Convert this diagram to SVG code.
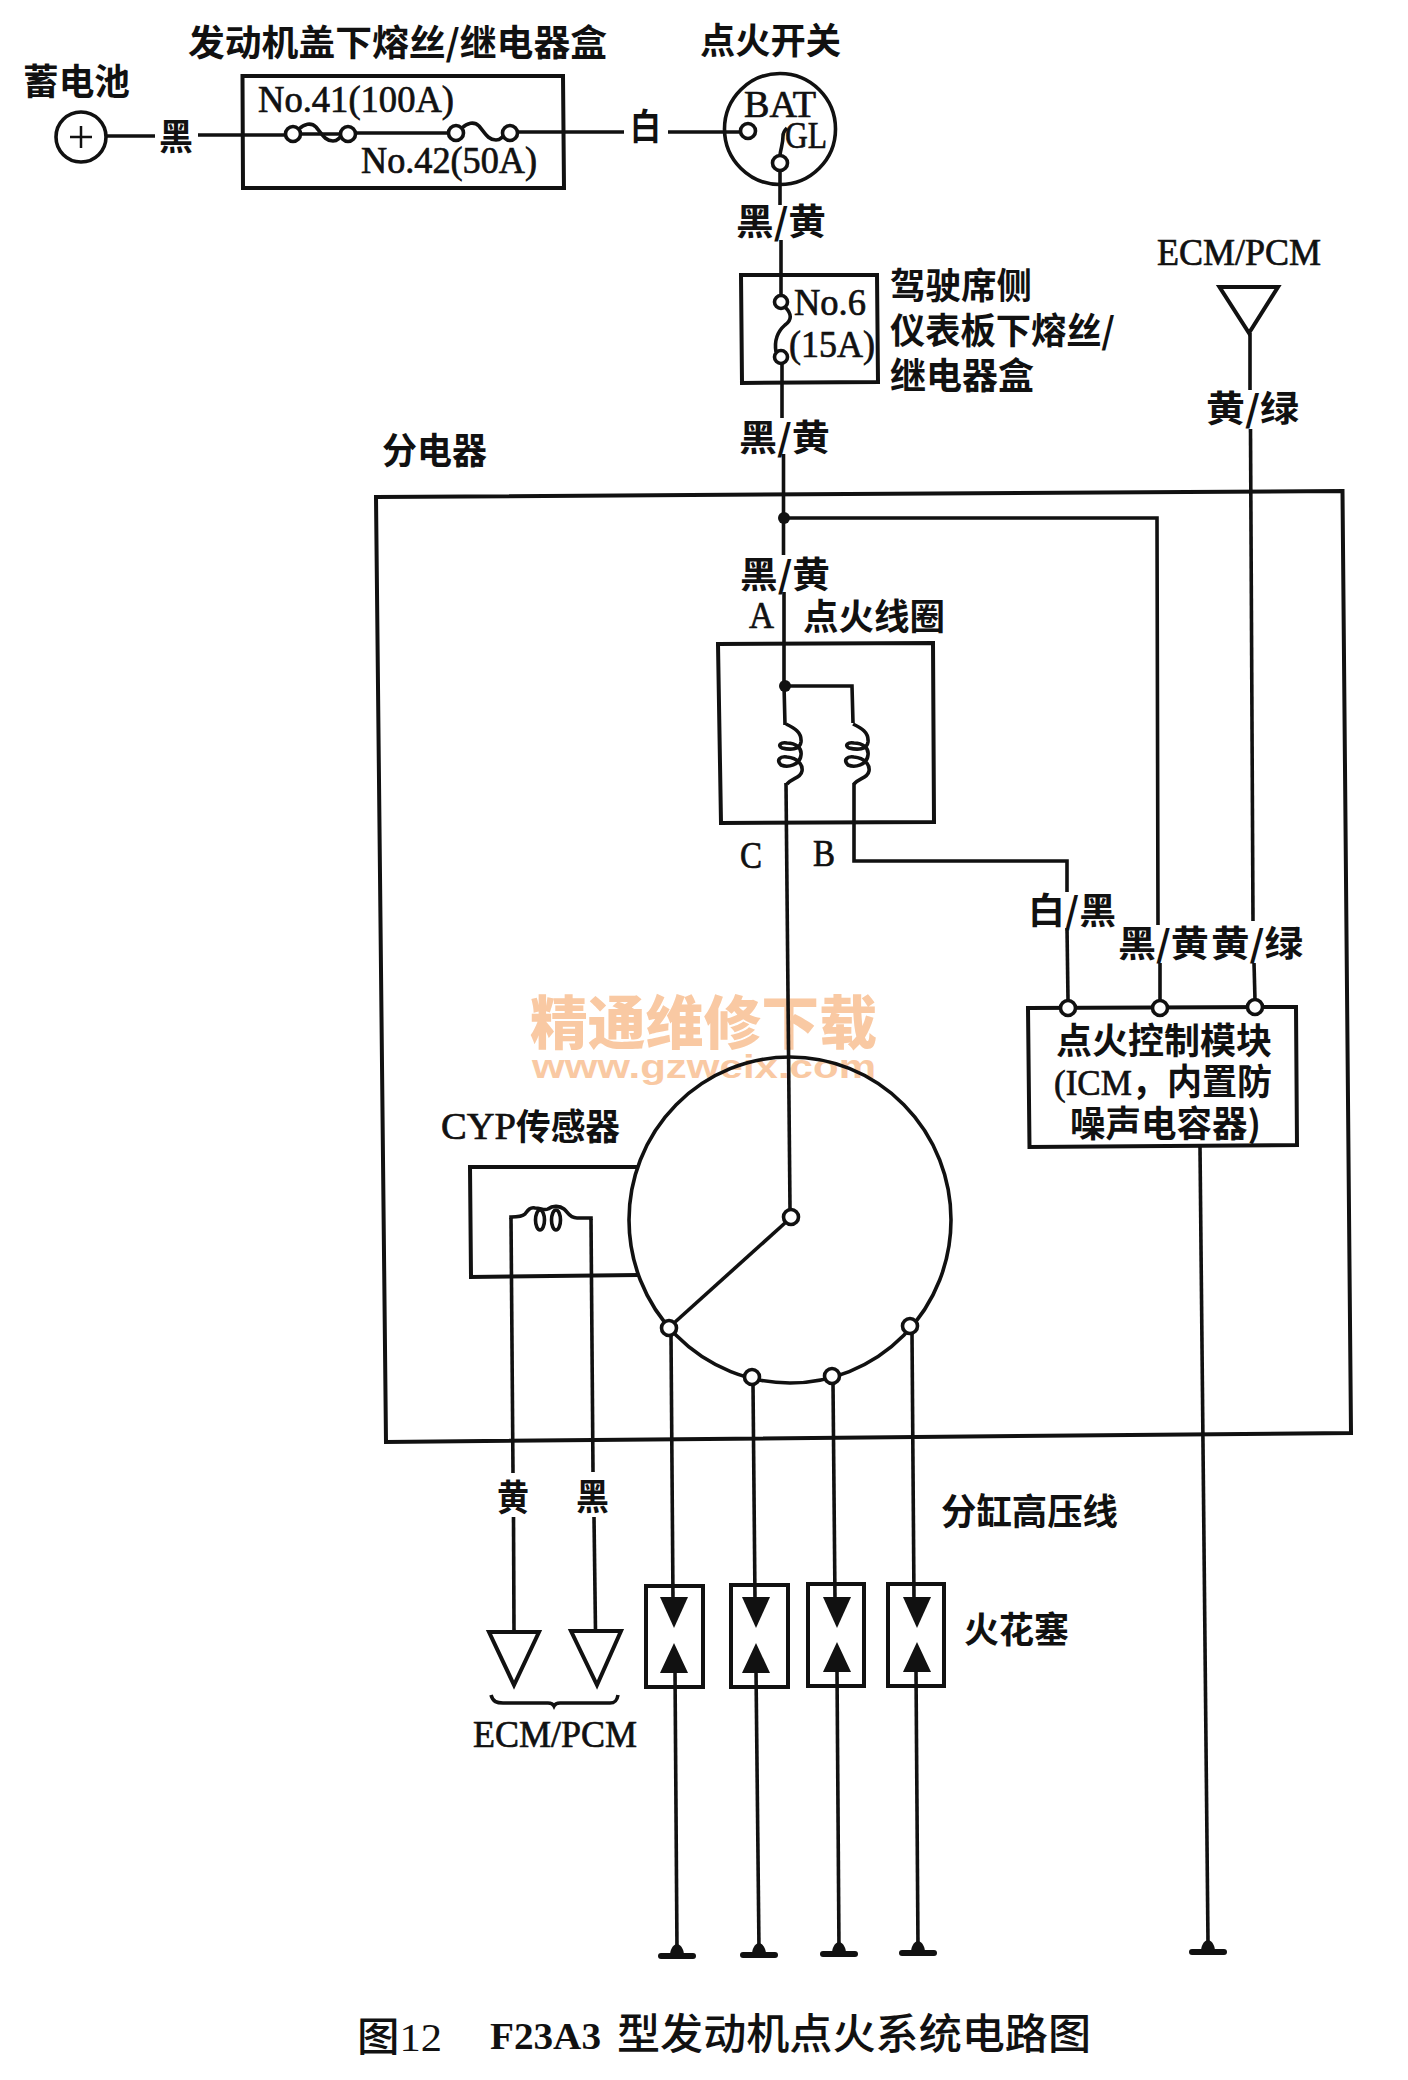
<svg xmlns="http://www.w3.org/2000/svg" xmlns:xlink="http://www.w3.org/1999/xlink" width="1408" height="2080" viewBox="0 0 1408 2080">
<style>
.w{fill:none;stroke:#111;stroke-width:3.6;stroke-linejoin:miter}
.b{fill:none;stroke:#111;stroke-width:4}
.t{fill:#fff;stroke:#111;stroke-width:3.6}
.d{fill:#111;stroke:none}
.c{font-family:"Noto Sans CJK SC",sans-serif;font-weight:700;font-size:36px;fill:#111}
.l{font-family:"Liberation Serif","Noto Sans CJK SC",serif;font-size:37px;fill:#111;stroke:#111;stroke-width:.7}
.wm{font-family:"Noto Sans CJK SC",sans-serif;font-weight:900;font-size:58px;fill:#f9c9a3}
.wu{font-family:"Liberation Sans",sans-serif;font-weight:700;font-size:34px;fill:#f9c9a3}
</style>
<defs>
<path id="fw" d="M0 0C5-5 12-7 17-2C23 5 26 12 34 12C39 12 42 8 44 3" class="w"/>
<path id="coil" d="M0 0C8 4 16 8 15 18C14 26 4 26-4 24C-9 21-5 18 1 19C10 19 16 24 15 31C14 41 2 44-5 41C-10 36-6 32 1 33C12 34 17 41 16 47C15 54 6 54 1 60" class="w"/>
<g id="gnd"><path class="d" d="M-7 0C-7-4-5-10 0-11C5-10 7-4 7 0Z"/><rect class="d" x="-19" y="-2" width="38" height="6" rx="3"/></g>
<path id="up" class="d" d="M-14 30L0 0L14 30Z"/>
<path id="dn" class="d" d="M-14 0L14 0L0 31Z"/>
</defs>
<rect width="1408" height="2080" fill="#fff"/>

<g id="watermark">
<text class="wm" x="530" y="1044" textLength="347" lengthAdjust="spacingAndGlyphs">精通维修下载</text>
<text class="wu" x="532" y="1078" textLength="344" lengthAdjust="spacingAndGlyphs">www.gzweix.com</text>
</g>

<g id="connectors">
<path class="w" d="M107 136H155"/>
<path class="w" d="M198 135H285"/>
<path class="w" d="M301 134H340"/>
<path class="w" d="M357 133H449"/>
<path class="w" d="M519 132H624"/>
<path class="w" d="M668 132H741"/>
<path class="w" d="M780 170V205"/>
<path class="w" d="M781 240V295"/>
<path class="w" d="M782 364V418"/>
<path class="w" d="M783.500 454V555"/>
<path class="w" d="M784 592V685L785 725"/>
<path class="w" d="M784 518H1157L1158 925"/>
<path class="w" d="M1160 963V1000"/>
<path class="w" d="M1250 333V390"/>
<path class="w" d="M1250.500 429L1253 921"/>
<path class="w" d="M1254 963L1255 1000"/>
<path class="w" d="M785 686H852L853 723"/>
<path class="w" d="M786 783L790 1209"/>
<path class="w" d="M854 783V861H1067V892"/>
<path class="w" d="M1067 928L1068 1000"/>
<path class="w" d="M1200 1147L1208 1942"/>
<path class="w" d="M785 1223L674 1323"/>
<path class="w" d="M511 1218L513 1473"/>
<path class="w" d="M513.500 1517L514 1632"/>
<path class="w" d="M591 1219L593 1472"/>
<path class="w" d="M594 1517L595.500 1631"/>
<path class="w" d="M671 1335L673 1600"/>
<path class="w" d="M675 1670L677 1950"/>
<path class="w" d="M753 1384L755 1600"/>
<path class="w" d="M756 1670L759 1950"/>
<path class="w" d="M833 1383L835 1600"/>
<path class="w" d="M837 1670L839 1950"/>
<path class="w" d="M912 1333L914 1600"/>
<path class="w" d="M916 1670L918 1948"/>
<circle class="d" cx="784" cy="518" r="6"/>
<circle class="d" cx="785" cy="686" r="6"/>
</g>

<g id="battery">
<text class="c" x="23" y="95" textLength="107" lengthAdjust="spacingAndGlyphs">蓄电池</text>
<circle class="w" cx="81" cy="137" r="25"/>
<path class="w" d="M70 137H92M81 126V148" style="stroke-width:2.500"/>
</g>
<g id="label-black-1"><text class="c" x="159" y="150" textLength="34" lengthAdjust="spacingAndGlyphs">黑</text></g>
<g id="label-white-1"><text class="c" x="630" y="140" textLength="31" lengthAdjust="spacingAndGlyphs">白</text></g>

<g id="engine-fuse-box">
<text class="c" x="188" y="56" textLength="419" lengthAdjust="spacingAndGlyphs">发动机盖下熔丝/继电器盒</text>
<path class="b" d="M242.500 76H563L564 188H243Z"/>
<text class="l" x="258" y="112" textLength="196" lengthAdjust="spacingAndGlyphs">No.41(100A)</text>
<text class="l" x="361" y="173" textLength="176" lengthAdjust="spacingAndGlyphs">No.42(50A)</text>
<use xlink:href="#fw" href="#fw" x="299" y="129"/>
<use xlink:href="#fw" href="#fw" x="462" y="128"/>
<circle class="t" cx="293" cy="134" r="7.500"/>
<circle class="t" cx="348" cy="134" r="7.500"/>
<circle class="t" cx="456" cy="133" r="7.500"/>
<circle class="t" cx="510" cy="133" r="7.500"/>
</g>

<g id="ignition-switch">
<text class="c" x="700" y="54" textLength="141" lengthAdjust="spacingAndGlyphs">点火开关</text>
<circle class="w" cx="780" cy="129" r="55.500"/>
<text class="l" x="744" y="117" textLength="72" lengthAdjust="spacingAndGlyphs">BAT</text>
<text class="l" x="785" y="148" textLength="42" lengthAdjust="spacingAndGlyphs">GL</text>
<circle class="t" cx="748" cy="131" r="7.500"/>
<path class="w" d="M780 155C781 147 783 144 783 136C783 132 785 130 787 128"/>
<circle class="t" cx="780" cy="163" r="7.500"/>
</g>
<g id="label-by-1"><text class="c" x="736" y="235" textLength="90" lengthAdjust="spacingAndGlyphs">黑/黄</text></g>

<g id="dash-fuse-box">
<path class="b" d="M741 275H877L878 382L742 383Z"/>
<path class="w" d="M785 307C792 314 792 320 785 325C777 332 774 340 776 352"/>
<circle class="t" cx="781" cy="302" r="6.500"/>
<circle class="t" cx="781" cy="357" r="6.500"/>
<text class="l" x="794" y="315" textLength="72" lengthAdjust="spacingAndGlyphs">No.6</text>
<text class="l" x="789" y="357" textLength="86" lengthAdjust="spacingAndGlyphs">(15A)</text>
<text class="c" x="890" y="299" textLength="142" lengthAdjust="spacingAndGlyphs">驾驶席侧</text>
<text class="c" x="890" y="344" textLength="225" lengthAdjust="spacingAndGlyphs">仪表板下熔丝/</text>
<text class="c" x="890" y="389" textLength="144" lengthAdjust="spacingAndGlyphs">继电器盒</text>
</g>
<g id="label-by-2"><text class="c" x="739" y="451" textLength="91" lengthAdjust="spacingAndGlyphs">黑/黄</text></g>

<g id="ecm-top">
<text class="l" x="1157" y="265" textLength="164" lengthAdjust="spacingAndGlyphs">ECM/PCM</text>
<path class="b" d="M1219.500 287H1278L1249 333Z"/>
</g>
<g id="label-yg-1"><text class="c" x="1206" y="422" textLength="93" lengthAdjust="spacingAndGlyphs">黄/绿</text></g>

<g id="distributor">
<text class="c" x="382" y="464" textLength="105" lengthAdjust="spacingAndGlyphs">分电器</text>
<path class="b" d="M376 497L1342.500 491L1351 1433L386 1442Z"/>
</g>

<g id="ignition-coil">
<text class="c" x="740" y="588" textLength="90" lengthAdjust="spacingAndGlyphs">黑/黄</text>
<text class="l" x="749" y="628" textLength="25" lengthAdjust="spacingAndGlyphs">A</text>
<text class="c" x="803" y="630" textLength="142" lengthAdjust="spacingAndGlyphs">点火线圈</text>
<path class="b" d="M718 644L933 643L934 822L721 823Z"/>
<use xlink:href="#coil" href="#coil" x="786" y="724"/>
<use xlink:href="#coil" href="#coil" x="853" y="724"/>
<text class="l" x="740" y="868" textLength="22" lengthAdjust="spacingAndGlyphs">C</text>
<text class="l" x="813" y="866" textLength="22" lengthAdjust="spacingAndGlyphs">B</text>
</g>

<g id="labels-module">
<text class="c" x="1028" y="924" textLength="88" lengthAdjust="spacingAndGlyphs">白/黑</text>
<text class="c" x="1118" y="957" textLength="91" lengthAdjust="spacingAndGlyphs">黑/黄</text>
<text class="c" x="1211" y="957" textLength="92" lengthAdjust="spacingAndGlyphs">黄/绿</text>
</g>

<g id="ignition-control-module">
<path class="b" d="M1028 1008L1296 1007L1297 1145L1029.500 1147Z"/>
<circle class="t" cx="1068" cy="1008" r="7.500"/>
<circle class="t" cx="1160" cy="1008" r="7.500"/>
<circle class="t" cx="1255" cy="1007" r="7.500"/>
<text class="c" x="1056" y="1054" textLength="216" lengthAdjust="spacingAndGlyphs">点火控制模块</text>
<text class="c" x="1054" y="1095" textLength="218" lengthAdjust="spacingAndGlyphs"><tspan style="font-family:'Liberation Serif';font-weight:400;stroke:#111;stroke-width:.7">(ICM</tspan>，内置防</text>
<text class="c" x="1070" y="1137" textLength="191" lengthAdjust="spacingAndGlyphs">噪声电容器)</text>
</g>

<g id="cyp-sensor">
<text class="l" x="441" y="1139" textLength="75" lengthAdjust="spacingAndGlyphs">CYP</text>
<text class="c" x="516" y="1140" textLength="104" lengthAdjust="spacingAndGlyphs">传感器</text>
<path class="b" d="M637 1167H470L471 1277L638 1275"/>
<path class="w" d="M511 1219V1217C516 1217 522 1217 525 1214C528 1210 530 1207 535 1208C541 1208 544 1211 548 1209C553 1205 560 1206 564 1209C568 1212 569 1218 577 1218H591V1220"/>
<ellipse class="w" cx="540" cy="1220" rx="4.500" ry="10"/>
<ellipse class="w" cx="556" cy="1220" rx="4.500" ry="10"/>
</g>

<g id="distributor-cap">
<ellipse class="w" cx="790" cy="1220" rx="161" ry="163"/>
<circle class="t" cx="791" cy="1217" r="7.500"/>
<circle class="t" cx="669" cy="1328" r="7.500"/>
<circle class="t" cx="752" cy="1377" r="7.500"/>
<circle class="t" cx="832" cy="1376" r="7.500"/>
<circle class="t" cx="910" cy="1326" r="7.500"/>
</g>

<g id="label-y"><text class="c" x="497" y="1511" textLength="32" lengthAdjust="spacingAndGlyphs">黄</text></g>
<g id="label-b"><text class="c" x="576" y="1510" textLength="33" lengthAdjust="spacingAndGlyphs">黑</text></g>
<g id="label-hv"><text class="c" x="941" y="1525" textLength="177" lengthAdjust="spacingAndGlyphs">分缸高压线</text></g>

<g id="ecm-bottom">
<path class="b" d="M489 1632H539L514 1685Z"/>
<path class="b" d="M571 1631H621L597 1685Z"/>
<path class="w" d="M491 1695C493 1702 497 1703 503 1703H548C552 1703 553 1704 554 1706C555 1704 556 1703 560 1703H610C615 1703 617 1701 618 1695"/>
<text class="l" x="473" y="1747" textLength="164" lengthAdjust="spacingAndGlyphs">ECM/PCM</text>
</g>

<g id="spark-plug-1">
<rect class="b" x="646" y="1586" width="57" height="101"/>
<use xlink:href="#dn" href="#dn" x="674" y="1597"/><use xlink:href="#up" href="#up" x="674" y="1643"/>
</g>
<g id="spark-plug-2">
<rect class="b" x="731" y="1585" width="57" height="102"/>
<use xlink:href="#dn" href="#dn" x="756" y="1597"/><use xlink:href="#up" href="#up" x="756" y="1643"/>
</g>
<g id="spark-plug-3">
<rect class="b" x="808" y="1584" width="56" height="102"/>
<use xlink:href="#dn" href="#dn" x="837" y="1597"/><use xlink:href="#up" href="#up" x="837" y="1642"/>
</g>
<g id="spark-plug-4">
<rect class="b" x="888" y="1584" width="56" height="102"/>
<use xlink:href="#dn" href="#dn" x="917" y="1597"/><use xlink:href="#up" href="#up" x="917" y="1642"/>
</g>
<g id="label-plug"><text class="c" x="964" y="1643" textLength="105" lengthAdjust="spacingAndGlyphs">火花塞</text></g>

<g id="grounds">
<use xlink:href="#gnd" href="#gnd" x="677" y="1955"/>
<use xlink:href="#gnd" href="#gnd" x="759" y="1954"/>
<use xlink:href="#gnd" href="#gnd" x="839" y="1953"/>
<use xlink:href="#gnd" href="#gnd" x="918" y="1952"/>
<use xlink:href="#gnd" href="#gnd" x="1208" y="1951"/>
</g>

<g id="caption">
<text class="c" x="357" y="2051" textLength="85" lengthAdjust="spacingAndGlyphs" style="font-size:40px;font-weight:500">图<tspan style="font-family:'Liberation Serif';font-weight:400">12</tspan></text>
<text class="l" x="490" y="2049" textLength="111" lengthAdjust="spacingAndGlyphs" style="font-weight:700;font-size:38px;stroke-width:0">F23A3</text>
<text class="c" x="617" y="2049" textLength="474" lengthAdjust="spacingAndGlyphs" style="font-size:42px;font-weight:500">型发动机点火系统电路图</text>
</g>
</svg>
